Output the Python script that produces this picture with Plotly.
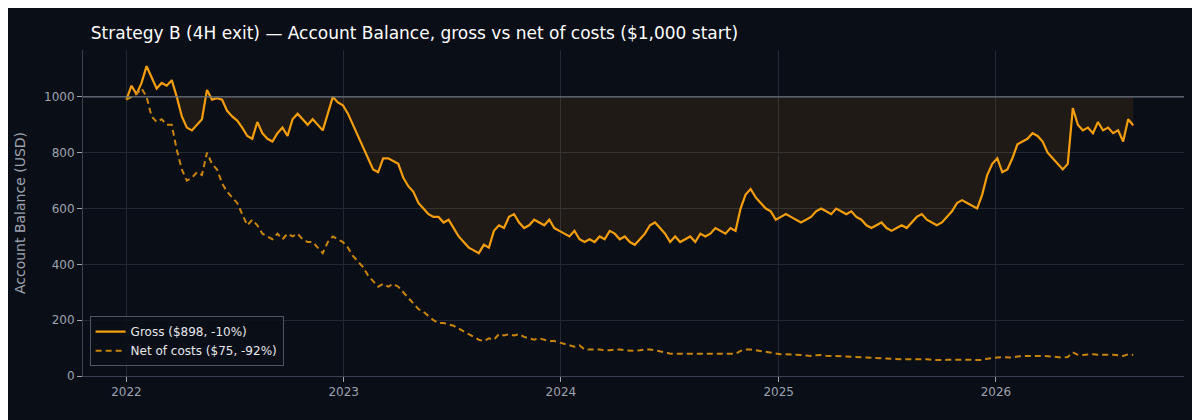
import plotly.graph_objects as go
import pandas as pd

start_date = "2022-01-01"
step = "203h"
gross = [990,1040,1010,1050,1110,1070,1030,1050,1040,1060,1000,930,890,880,900,920,1025,990,995,990,
950,930,915,890,860,850,910,870,850,840,870,890,860,920,940,920,900,920,900,880,
940,1000,980,970,940,900,860,820,780,740,730,780,780,770,760,710,680,660,620,600,
580,570,570,550,560,530,500,480,460,450,440,470,460,520,540,530,570,580,550,530,
540,560,550,540,560,530,520,510,500,520,490,480,490,480,500,490,520,510,490,500,
480,470,490,510,540,550,530,510,480,500,480,490,500,480,510,500,510,530,520,510,
530,520,600,650,670,640,620,600,590,560,570,580,570,560,550,560,570,590,600,590,
580,600,590,580,590,570,560,540,530,540,550,530,520,530,540,530,550,570,580,560,
550,540,550,570,590,620,630,620,610,600,650,720,760,780,730,740,780,830,840,850,
870,860,840,800,780,760,740,760,960,900,880,890,870,910,880,890,870,880,840,920,898]
net = [990,1000,1010,1030,1000,930,910,920,900,900,810,740,700,710,730,720,800,760,740,690,
660,640,620,580,540,560,540,510,500,490,510,490,510,500,510,490,480,480,460,440,
480,500,490,480,460,430,410,390,360,340,320,330,320,330,320,300,280,260,240,230,
215,200,190,190,185,180,170,160,150,140,130,125,135,130,150,145,150,145,150,140,
135,130,135,130,125,125,120,115,110,105,110,95,95,95,95,92,92,95,95,92,
90,90,92,95,95,92,90,85,80,80,80,80,80,78,80,78,78,80,80,78,
78,80,90,95,95,92,88,85,82,80,78,78,78,76,75,74,72,74,75,73,
72,71,70,70,70,69,68,66,65,63,62,61,60,60,60,60,60,61,62,60,
58,57,57,58,58,59,60,59,58,57,57,62,65,66,68,67,66,70,72,72,
72,73,72,71,70,68,66,68,85,76,75,77,78,76,75,76,76,74,72,78,75]
baseline = 1000

xg = pd.date_range(start_date, periods=len(gross), freq=step)
xn = pd.date_range(start_date, periods=len(net), freq=step)
under = [min(v, baseline) for v in gross]

fig = go.Figure()
fig.add_trace(go.Scatter(x=xg, y=[baseline]*len(gross), mode="lines", line=dict(width=0),
                         showlegend=False, hoverinfo="skip"))
fig.add_trace(go.Scatter(x=xg, y=under, mode="lines", line=dict(width=0), fill="tonexty",
                         fillcolor="rgba(245,158,11,0.09)", showlegend=False, hoverinfo="skip"))
fig.add_hline(y=baseline, line=dict(color="#6b7280", width=1.2))
fig.add_trace(go.Scatter(x=xg, y=gross, mode="lines", name="Gross ($898, -10%)",
                         line=dict(color="#f59e0b", width=2.2)))
fig.add_trace(go.Scatter(x=xn, y=net, mode="lines", name="Net of costs ($75, -92%)",
                         line=dict(color="#c8850a", width=2, dash="6px,4px")))

fig.update_layout(
    width=1200, height=420,
    paper_bgcolor="#0a0e17", plot_bgcolor="#0a0e17",
    margin=dict(l=75, r=24, t=42, b=52),
    title=dict(text="Strategy B (4H exit) — Account Balance, gross vs net of costs ($1,000 start)",
               x=0.069, xanchor="left", y=0.955, font=dict(color="white", size=17, family="DejaVu Sans")),
    font=dict(family="DejaVu Sans", color="#9ca3af", size=12),
    legend=dict(x=0.006, y=0.03, xanchor="left", yanchor="bottom", bgcolor="rgba(10,14,23,0.85)",
                traceorder="normal",
                bordercolor="#4b5563", borderwidth=1, font=dict(color="#e5e7eb", size=12)),
    xaxis=dict(range=["2021-10-20", "2026-11-13"], showgrid=True, gridcolor="#232834",
               tickvals=["2022-01-01", "2023-01-01", "2024-01-01", "2025-01-01", "2026-01-01"],
               ticktext=["2022", "2023", "2024", "2025", "2026"], ticks="outside", tickcolor="#9ca3af",
               showline=True, linecolor="#374151", zeroline=False, mirror=False),
    yaxis=dict(range=[0, 1168], tickvals=[0, 200, 400, 600, 800, 1000], showgrid=True, gridcolor="#232834",
               title=dict(text="Account Balance (USD)", font=dict(size=14)), ticks="outside",
               tickcolor="#9ca3af", showline=True, linecolor="#374151", zeroline=False),
)
fig.write_html("out.html")
